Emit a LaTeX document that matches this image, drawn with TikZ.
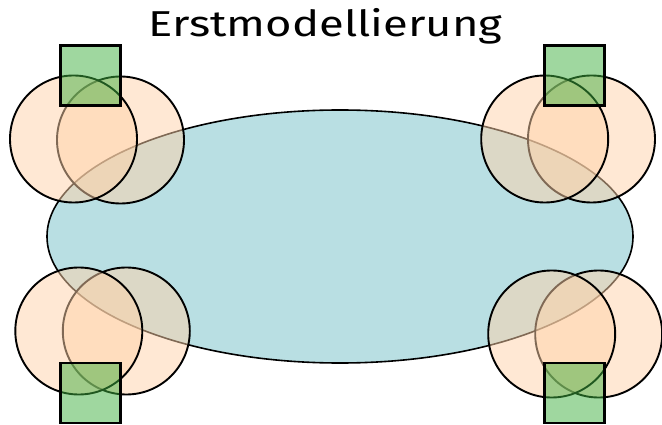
\documentclass[tikz,border=0pt]{standalone}
\usepackage{fontspec}
\setmainfont{Fira Sans}
\newfontfamily\titlefont{Fira Sans}
\usetikzlibrary{shapes.geometric}
\definecolor{lake}{RGB}{185,223,227}
\definecolor{peach}{RGB}{255,211,170}
\definecolor{leaf}{RGB}{64,176,64}
\tikzset{
  lakebox/.style={ellipse, draw=black, line width=1.6pt, fill=lake,
    minimum width=586pt, minimum height=253pt, inner sep=0pt},
  ring/.style={circle, draw=black, line width=1.9pt, fill=peach, fill opacity=0.5,
    draw opacity=1, minimum size=127pt, inner sep=0pt},
  tile/.style={rectangle, draw=black, line width=2.2pt, fill=leaf, fill opacity=0.5,
    draw opacity=1, minimum size=60pt, inner sep=0pt},
  heading/.style={anchor=base, transform shape, xscale=1.26,
    font=\titlefont\fontsize{36}{42}\selectfont},
}
\begin{document}
\begin{tikzpicture}[x=1pt, y=-1pt]
  \useasboundingbox[fill=white] (0,0) rectangle (662,425);
  \node[heading] (title) at (325.5,37) {Erstmodellierung};
  \node[lakebox] (lake) at (340,236.5) {};
  % top left group
  \node[ring] (tlb) at (120.5,140) {};
  \node[ring] (tla) at (73.5,139) {};
  \node[tile] (tls) at (90.5,75.5) {};
  % top right group
  \node[ring] (trb) at (591.5,139) {};
  \node[ring] (tra) at (544.7,139) {};
  \node[tile] (trs) at (574.5,75.5) {};
  % bottom left group
  \node[ring] (blb) at (126.3,331) {};
  \node[ring] (bla) at (78.8,331) {};
  \node[tile] (bls) at (90.5,393) {};
  % bottom right group
  \node[ring] (brb) at (598.7,334) {};
  \node[ring] (bra) at (551.7,334) {};
  \node[tile] (brs) at (574.5,393) {};
\end{tikzpicture}
\end{document}
